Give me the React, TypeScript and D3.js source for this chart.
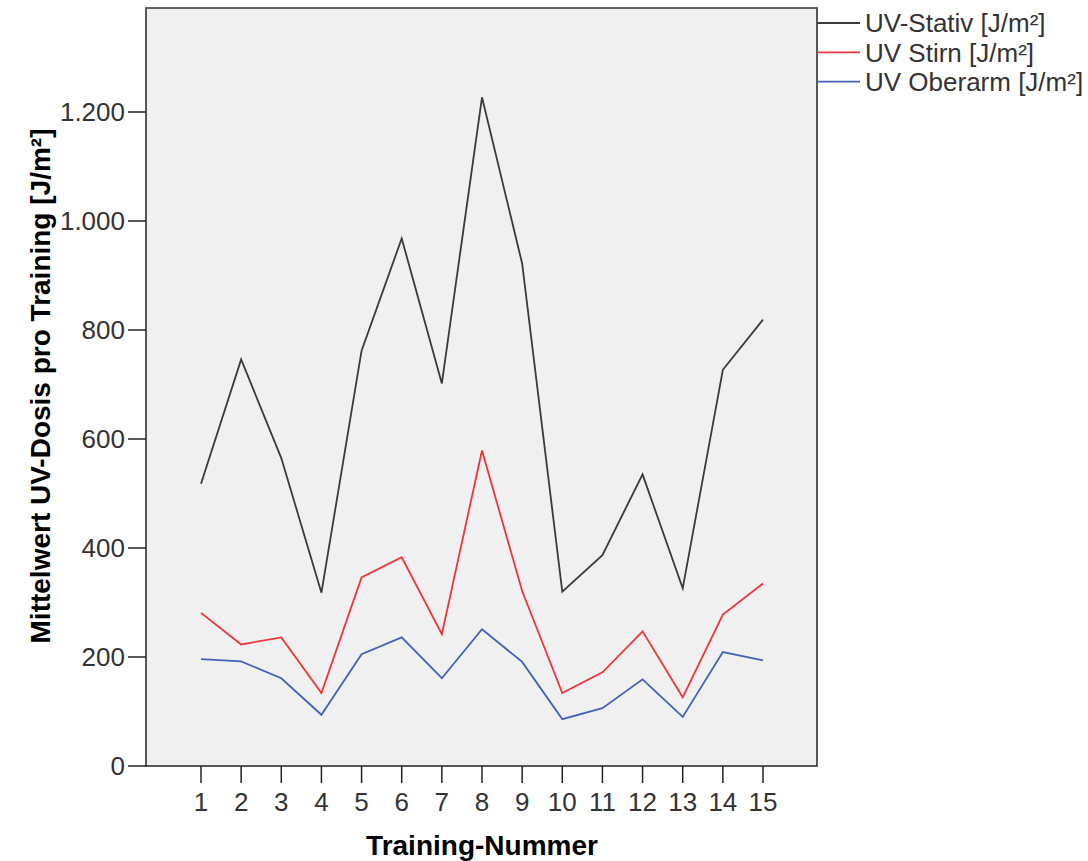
import React from "react";
import * as d3 from "d3";

const trainings = [1, 2, 3, 4, 5, 6, 7, 8, 9, 10, 11, 12, 13, 14, 15];
const stativ = [518, 746, 565, 318, 762, 968, 702, 1227, 922, 320, 387, 535, 326, 727, 819];
const stirn = [281, 223, 236, 134, 346, 383, 242, 579, 321, 134, 172, 247, 126, 278, 335];
const oberarm = [196, 192, 161, 94, 205, 236, 161, 251, 191, 86, 106, 159, 90, 209, 194];
const yTicks = [0, 200, 400, 600, 800, 1000, 1200];
const seriesNames = ["UV-Stativ [J/m²]", "UV Stirn [J/m²]", "UV Oberarm [J/m²]"];
const seriesColors = ["#3a3a3a", "#f0343c", "#4462b8"];

const W = 1088, H = 861;
const left = 146, right = 817, top = 8, bottom = 766;

export default function App() {
  const x = d3.scaleLinear().domain([1, 15]).range([201, 763]);
  const y = d3.scaleLinear().domain([0, 1200]).range([bottom, 112]);
  const fmt = (v: number) => d3.format(",")(v).replace(/,/g, ".");
  const line = d3.line<number>().x((_, i) => x(trainings[i])).y((d) => y(d));
  const series = [stativ, stirn, oberarm];
  const font = "'Liberation Sans', Arial, sans-serif";
  return (
    <svg width={W} height={H} style={{ position: "absolute", left: 0, top: 0 }} fontFamily={font}>
      <rect x={0} y={0} width={W} height={H} fill="#ffffff" />
      <rect x={left} y={top} width={right - left} height={bottom - top} fill="#f0f0f0" stroke="none" />
      {series.map((s, i) => (
        <path key={i} d={line(s) || ""} fill="none" stroke={seriesColors[i]} strokeWidth={1.8} strokeLinejoin="miter" />
      ))}
      <rect x={left} y={top} width={right - left} height={bottom - top} fill="none" stroke="#222" strokeWidth={1.5} />
      <line x1={left} x2={right} y1={top} y2={top} stroke="#666" strokeWidth={1.5} />
      {yTicks.map((t) => (
        <g key={t}>
          <line x1={128} x2={left} y1={y(t)} y2={y(t)} stroke="#222" strokeWidth={1.5} />
          <text x={125} y={y(t)} dy="0.36em" textAnchor="end" fontSize={26} fill="#333">{fmt(t)}</text>
        </g>
      ))}
      {trainings.map((t) => (
        <g key={t}>
          <line x1={x(t)} x2={x(t)} y1={bottom} y2={bottom + 17} stroke="#222" strokeWidth={1.5} />
          <text x={x(t)} y={811} textAnchor="middle" fontSize={26} fill="#333">{t}</text>
        </g>
      ))}
      <text x={482} y={855} textAnchor="middle" fontSize={28} fontWeight="bold" fill="#000">Training-Nummer</text>
      <text transform={`translate(50,386) rotate(-90)`} textAnchor="middle" fontSize={28} fontWeight="bold" fill="#000">
        Mittelwert UV-Dosis pro Training [J/m²]
      </text>
      {seriesNames.map((n, i) => (
        <g key={n} transform={`translate(0, ${23 + i * 29.3})`}>
          <line x1={right} x2={860} y1={0} y2={0} stroke={seriesColors[i]} strokeWidth={1.8} />
          <text x={865} y={0} dy="0.36em" fontSize={26} fill="#333">{n}</text>
        </g>
      ))}
    </svg>
  );
}
